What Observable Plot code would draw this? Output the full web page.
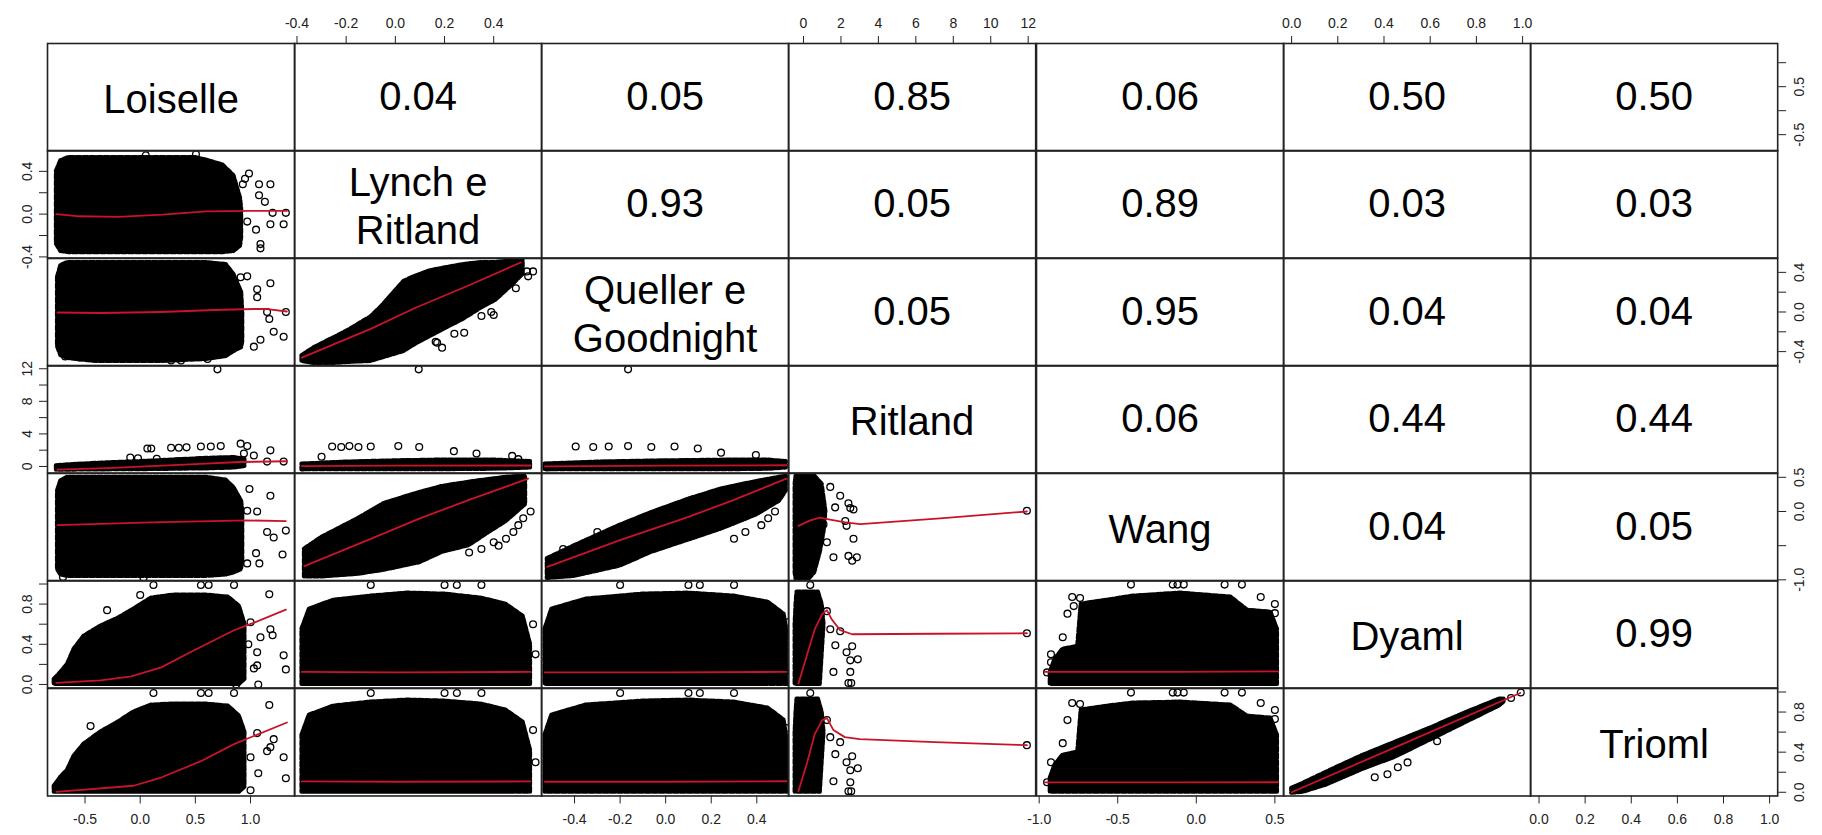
<!DOCTYPE html>
<html><head><meta charset="utf-8">
<script src="https://cdn.jsdelivr.net/npm/d3@7"></script>
<script src="https://cdn.jsdelivr.net/npm/@observablehq/plot@0.6"></script>
<style>
body{margin:0;background:#fff;}
#chart{position:relative;width:1822px;height:835px;overflow:hidden;background:#fff;font-family:"Liberation Sans",Arial,sans-serif;}
#chart > svg{position:absolute;}
</style></head><body><div id="chart"></div>
<script>
// ---- variables ----
const names = ["Loiselle","Lynch e\nRitland","Queller e\nGoodnight","Ritland","Wang","Dyaml","Trioml"];
const domains = [[-0.84,1.40],[-0.41,0.595],[-0.545,0.54],[-0.8,12.4],[-1.017,0.556],[-0.035,1.035],[-0.037,1.035]];
const tickValues = [[-0.5,0,0.5,1.0],[-0.4,-0.2,0,0.2,0.4],[-0.4,-0.2,0,0.2,0.4],[0,2,4,6,8,10,12],[-1,-0.5,0,0.5],[0,0.2,0.4,0.6,0.8,1.0],[0,0.2,0.4,0.6,0.8,1.0]];
// labels printed on the side axes (R drops overlapping ones)
const sideLabels = [[-0.5,0.5],[-0.4,0,0.4],[-0.4,0,0.4],[0,4,8,12],[-1,0,0.5],[0,0.4,0.8],[0,0.4,0.8]];
// correlations, upper triangle row by row
const corr = [
  ["0.04","0.05","0.85","0.06","0.50","0.50"],
  ["0.93","0.05","0.89","0.03","0.03"],
  ["0.05","0.95","0.04","0.04"],
  ["0.06","0.44","0.44"],
  ["0.04","0.05"],
  ["0.99"]
];

// ---- lower panels: dense cloud envelope [x, low, high], sparse points [x,y], smoother [x,y] ----
const cloud21 = [[-0.76,-0.28,0.40],[-0.72,-0.35,0.50],[-0.65,-0.36,0.53],[0.50,-0.36,0.53],[0.62,-0.36,0.50],[0.75,-0.36,0.46],[0.85,-0.35,0.36],[0.91,-0.30,0.15],[0.92,-0.22,0.05]];
const out21 = [[0.986,0.38],[1.077,0.28],[1.18,0.28],[1.077,0.177],[1.13,0.115],[1.18,-0.095],[1.30,-0.095],[1.32,0.012],[1.20,0.012],[1.05,-0.145],[1.09,-0.32],[1.09,-0.28],[0.97,-0.07],[0.93,0.28],[0.95,0.33],[0.05,0.55],[0.505,0.56]];
const fit21 = [[-0.76,0.0],[-0.55,-0.02],[-0.2,-0.025],[0.2,-0.005],[0.6,0.025],[1.0,0.03],[1.33,0.03]];

const cloud31 = [[-0.75,-0.35,0.35],[-0.72,-0.44,0.47],[-0.66,-0.47,0.50],[-0.4,-0.50,0.50],[0.2,-0.50,0.50],[0.6,-0.48,0.50],[0.78,-0.45,0.48],[0.85,-0.40,0.38],[0.92,-0.36,0.2],[0.93,-0.3,0.0]];
const out31 = [[0.91,0.35],[0.97,0.36],[1.18,0.29],[1.06,0.23],[1.06,0.15],[1.32,0.0],[1.15,0.0],[1.17,-0.07],[1.21,-0.2],[1.30,-0.25],[1.09,-0.28],[1.03,-0.35],[0.61,-0.475],[0.37,-0.49],[0.28,-0.49],[-0.68,-0.45],[-0.55,-0.46]];
const fit31 = [[-0.75,-0.005],[-0.36,-0.01],[0.19,0.0],[0.67,0.02],[1.03,0.03],[1.15,0.03],[1.33,0.005]];

const cloud41 = [[-0.76,-0.45,0.1],[-0.6,-0.45,0.25],[-0.3,-0.42,0.45],[0.0,-0.4,0.6],[0.3,-0.35,0.8],[0.6,-0.3,1.0],[0.85,-0.2,1.1],[0.95,0.0,0.9]];
const out41 = [[0.065,2.2],[0.1,2.2],[0.28,2.3],[0.35,2.3],[0.42,2.35],[0.55,2.45],[0.64,2.45],[0.73,2.5],[0.91,2.8],[0.97,2.5],[1.18,1.98],[0.94,1.6],[1.03,1.35],[1.15,0.6],[1.30,0.6],[-0.09,1.1],[0.70,11.93],[-0.02,1.0],[0.15,0.95]];
const fit41 = [[-0.75,-0.39],[-0.3,-0.2],[0.1,0.05],[0.5,0.3],[0.9,0.55],[1.33,0.64]];

const cloud51 = [[-0.75,-0.85,0.30],[-0.72,-0.93,0.45],[-0.66,-0.95,0.50],[0.6,-0.95,0.50],[0.78,-0.93,0.46],[0.85,-0.9,0.35],[0.92,-0.85,0.15],[0.93,-0.7,0.0]];
const out51 = [[0.99,0.33],[1.18,0.23],[0.97,0.01],[1.06,0.0],[1.32,-0.28],[1.21,-0.38],[1.15,-0.3],[1.29,-0.63],[1.05,-0.61],[0.97,-0.76],[1.08,-0.76],[0.9,-0.77],[0.03,-0.97],[-0.7,-0.96]];
const fit51 = [[-0.75,-0.2],[0.1,-0.16],[0.97,-0.13],[1.32,-0.14]];

const cloud61 = [[-0.78,0.0,0.05],[-0.72,0.0,0.12],[-0.66,0.0,0.2],[-0.6,0.0,0.35],[-0.51,0.0,0.48],[-0.36,0.0,0.58],[-0.2,0.0,0.66],[-0.06,0.0,0.75],[0.1,0.0,0.86],[0.3,0.0,0.89],[0.6,0.0,0.89],[0.8,0.0,0.87],[0.9,0.0,0.78],[0.95,0.05,0.6]];
const out61 = [[1.17,0.898],[1.2,0.49],[1.18,0.55],[1.09,0.47],[1.3,0.29],[1.32,0.15],[1.03,0.16],[1.06,0.32],[1.07,0.0],[1.06,0.19],[0.87,0.0],[0.12,0.99],[0.55,0.99],[0.62,0.99],[0.85,0.99],[-0.3,0.74],[0.0,0.89],[1.0,0.62],[0.98,0.4]];
const fit61 = [[-0.76,0.015],[-0.36,0.04],[-0.08,0.08],[0.19,0.17],[0.49,0.34],[0.85,0.54],[1.02,0.61],[1.32,0.745]];

const cloud71 = [[-0.78,0.0,0.06],[-0.72,0.0,0.15],[-0.66,0.0,0.22],[-0.6,0.0,0.36],[-0.51,0.0,0.48],[-0.36,0.0,0.6],[-0.2,0.0,0.7],[-0.06,0.0,0.8],[0.1,0.0,0.87],[0.3,0.0,0.88],[0.6,0.0,0.88],[0.8,0.0,0.86],[0.9,0.0,0.76],[0.95,0.05,0.6]];
const out71 = [[1.17,0.87],[1.06,0.59],[1.15,0.41],[1.21,0.53],[1.18,0.45],[1.30,0.35],[1.32,0.14],[1.07,0.19],[1.0,0.02],[0.12,0.99],[0.55,0.99],[0.62,0.99],[0.85,0.99],[-0.45,0.66],[1.0,0.35]];
const fit71 = [[-0.76,0.005],[-0.06,0.065],[0.19,0.147],[0.55,0.31],[0.85,0.48],[1.33,0.696]];

const cloud32 = [[-0.38,-0.50,-0.44],[-0.33,-0.52,-0.36],[-0.25,-0.52,-0.26],[-0.195,-0.51,-0.19],[-0.1,-0.50,-0.05],[-0.06,-0.47,0.045],[0.035,-0.40,0.31],[0.08,-0.33,0.36],[0.14,-0.25,0.415],[0.21,-0.16,0.45],[0.28,-0.07,0.48],[0.35,0.04,0.50],[0.41,0.12,0.50],[0.48,0.28,0.52],[0.52,0.38,0.52]];
const out32 = [[0.56,0.41],[0.535,0.41],[0.54,0.36],[0.49,0.24],[0.40,-0.03],[0.39,0.0],[0.35,-0.04],[0.28,-0.21],[0.24,-0.22],[0.19,-0.36],[0.164,-0.30],[0.11,-0.24],[0.095,-0.25],[-0.01,-0.36],[0.17,-0.31]];
const fit32 = [[-0.38,-0.46],[-0.1,-0.17],[0.08,0.04],[0.3,0.27],[0.51,0.50]];

const cloud42 = [[-0.38,-0.42,0.3],[-0.2,-0.4,0.55],[0.0,-0.4,0.7],[0.2,-0.4,0.8],[0.4,-0.35,0.8],[0.55,-0.2,0.6]];
const out42 = [[-0.257,2.45],[-0.22,2.4],[-0.187,2.5],[-0.15,2.4],[-0.1,2.45],[0.012,2.5],[0.097,2.4],[0.238,1.88],[0.33,1.6],[0.475,1.3],[0.095,11.93],[-0.3,1.2],[0.5,0.9]];
const fit42 = [[-0.38,0.05],[0.0,0.1],[0.55,0.12]];

const cloud43 = [[-0.53,-0.42,0.3],[-0.3,-0.4,0.55],[0.0,-0.4,0.7],[0.3,-0.4,0.8],[0.45,-0.35,0.8],[0.53,-0.2,0.6]];
const out43 = [[-0.395,2.45],[-0.318,2.4],[-0.25,2.45],[-0.165,2.5],[-0.063,2.4],[0.039,2.45],[0.141,2.2],[0.243,1.7],[0.396,1.4],[-0.165,11.93]];
const fit43 = [[-0.53,0.0],[0.0,0.1],[0.53,0.15]];

const cloud52 = [[-0.37,-0.96,-0.55],[-0.3,-0.96,-0.38],[-0.15,-0.92,-0.1],[-0.045,-0.86,0.12],[0.1,-0.75,0.28],[0.19,-0.6,0.367],[0.3,-0.5,0.43],[0.38,-0.31,0.47],[0.45,-0.15,0.5],[0.53,0.1,0.52]];
const out52 = [[0.3,-0.6],[0.35,-0.55],[0.4,-0.45],[0.45,-0.4],[0.48,-0.3],[0.5,-0.2],[0.52,-0.1],[0.55,0.0],[0.42,-0.5]];
const fit52 = [[-0.37,-0.8],[-0.1,-0.4],[0.1,-0.1],[0.3,0.17],[0.54,0.48]];

const cloud53 = [[-0.52,-0.98,-0.69],[-0.4,-0.95,-0.5],[-0.2,-0.8,-0.2],[-0.063,-0.6,-0.016],[0.1,-0.42,0.18],[0.243,-0.26,0.33],[0.4,-0.05,0.44],[0.5,0.15,0.5],[0.53,0.3,0.52]];
const out53 = [[0.3,-0.4],[0.35,-0.3],[0.42,-0.2],[0.45,-0.1],[0.48,0.0],[-0.3,-0.3],[-0.45,-0.55]];
const fit53 = [[-0.52,-0.81],[-0.2,-0.42],[0.1,-0.08],[0.3,0.17],[0.53,0.48]];

// Ritland on x: strips given as [y, xLow, xHigh]
const cloud54 = [[0.52,-0.4,0.6],[0.4,-0.45,1.0],[0.2,-0.45,1.1],[0.0,-0.45,1.2],[-0.3,-0.45,1.1],[-0.6,-0.45,0.9],[-0.9,-0.45,0.6],[-0.99,-0.4,0.3]];
const out54 = [[1.43,0.36],[1.96,0.23],[1.69,0.06],[2.4,0.12],[2.5,0.05],[2.67,0.03],[2.23,-0.14],[2.3,-0.21],[2.67,-0.40],[1.6,-0.67],[2.4,-0.65],[2.85,-0.67],[2.6,-0.72],[1.25,-0.45],[1.07,-0.19],[11.93,0.01]];
const fit54 = [[-0.27,-0.21],[0.36,-0.13],[0.89,-0.09],[1.42,-0.12],[2.23,-0.16],[3.03,-0.185],[7.3,-0.1],[11.93,0.0]];

const cloud64 = [[0.92,-0.35,0.8],[0.8,-0.4,1.0],[0.6,-0.45,1.1],[0.3,-0.45,1.0],[0.0,-0.45,0.9]];
const out64 = [[1.25,0.73],[1.96,0.53],[1.43,0.55],[1.7,0.39],[2.6,0.38],[2.3,0.32],[2.5,0.24],[2.9,0.25],[1.6,0.125],[2.5,0.125],[2.4,0.015],[2.55,0.015],[11.93,0.51],[0.36,0.99]];
const fit64 = [[-0.27,0.01],[0.2,0.3],[0.6,0.55],[1.0,0.7],[1.25,0.74],[1.5,0.65],[1.96,0.54],[2.6,0.5],[7.0,0.505],[11.93,0.51]];

const cloud74 = [[0.93,-0.35,0.8],[0.8,-0.4,1.0],[0.6,-0.45,1.1],[0.3,-0.45,1.0],[0.0,-0.45,0.9]];
const out74 = [[1.25,0.72],[1.96,0.5],[1.43,0.55],[1.7,0.38],[2.6,0.36],[2.3,0.3],[2.5,0.22],[2.9,0.24],[1.6,0.11],[2.5,0.1],[2.4,0.01],[2.55,0.01],[11.93,0.47],[0.36,0.99]];
const fit74 = [[-0.27,0.01],[0.2,0.3],[0.6,0.58],[1.0,0.72],[1.25,0.74],[1.6,0.62],[2.2,0.55],[3.0,0.53],[7.0,0.5],[11.93,0.47]];

const cloud62 = [[-0.38,0.0,0.55],[-0.35,0.0,0.75],[-0.25,0.0,0.84],[-0.1,0.0,0.88],[0.05,0.0,0.91],[0.2,0.0,0.9],[0.35,0.0,0.86],[0.45,0.0,0.8],[0.52,0.0,0.68],[0.55,0.0,0.4]];
const out62 = [[-0.1,0.99],[0.2,0.99],[0.25,0.99],[0.35,0.99],[0.56,0.6],[0.57,0.3]];
const fit62 = [[-0.38,0.125],[0.0,0.12],[0.55,0.125]];

const cloud72 = [[-0.38,0.0,0.57],[-0.35,0.0,0.77],[-0.25,0.0,0.86],[-0.1,0.0,0.9],[0.05,0.0,0.92],[0.2,0.0,0.91],[0.35,0.0,0.88],[0.45,0.0,0.82],[0.52,0.0,0.7],[0.55,0.0,0.42]];
const out72 = [[-0.1,0.99],[0.2,0.99],[0.25,0.99],[0.35,0.99],[0.56,0.62],[0.57,0.3]];
const fit72 = [[-0.38,0.108],[0.0,0.105],[0.55,0.108]];

const cloud63 = [[-0.53,0.0,0.55],[-0.5,0.0,0.75],[-0.35,0.0,0.85],[-0.1,0.0,0.9],[0.1,0.0,0.91],[0.3,0.0,0.88],[0.45,0.0,0.82],[0.52,0.0,0.7],[0.535,0.0,0.5]];
const out63 = [[-0.2,0.99],[0.1,0.99],[0.15,0.99],[0.3,0.99],[0.53,0.62]];
const fit63 = [[-0.53,0.12],[0.0,0.12],[0.53,0.125]];

const cloud73 = [[-0.53,0.0,0.57],[-0.5,0.0,0.77],[-0.35,0.0,0.87],[-0.1,0.0,0.91],[0.1,0.0,0.92],[0.3,0.0,0.9],[0.45,0.0,0.84],[0.52,0.0,0.72],[0.535,0.0,0.5]];
const out73 = [[-0.2,0.99],[0.1,0.99],[0.15,0.99],[0.3,0.99],[0.53,0.64]];
const fit73 = [[-0.53,0.105],[0.0,0.105],[0.53,0.11]];

const cloud65 = [[-0.93,0.0,0.12],[-0.9,0.0,0.25],[-0.85,0.0,0.35],[-0.755,0.0,0.38],[-0.733,0.0,0.80],[-0.564,0.0,0.84],[-0.4,0.0,0.88],[-0.1,0.0,0.91],[0.221,0.0,0.87],[0.326,0.0,0.74],[0.475,0.0,0.72],[0.517,0.0,0.55]];
const out65 = [[-0.416,0.994],[-0.15,0.994],[-0.12,0.994],[-0.08,0.994],[0.18,0.994],[0.29,0.994],[-0.79,0.87],[-0.74,0.86],[-0.78,0.78],[-0.82,0.705],[-0.925,0.3],[-0.925,0.22],[-0.85,0.47],[0.41,0.87],[0.5,0.8],[0.5,0.71],[-0.95,0.12]];
const fit65 = [[-0.967,0.125],[-0.1,0.125],[0.52,0.13]];

const cloud75 = [[-0.93,0.0,0.14],[-0.9,0.0,0.27],[-0.85,0.0,0.37],[-0.755,0.0,0.4],[-0.733,0.0,0.82],[-0.564,0.0,0.86],[-0.4,0.0,0.89],[-0.1,0.0,0.9],[0.221,0.0,0.87],[0.326,0.0,0.76],[0.475,0.0,0.74],[0.517,0.0,0.57]];
const out75 = [[-0.416,0.994],[-0.15,0.994],[-0.12,0.994],[-0.08,0.994],[0.18,0.994],[0.29,0.994],[-0.79,0.89],[-0.74,0.88],[-0.82,0.72],[-0.925,0.3],[-0.85,0.49],[0.41,0.89],[0.5,0.82],[0.5,0.73],[-0.95,0.1]];
const fit75 = [[-0.967,0.098],[-0.1,0.098],[0.52,0.1]];

const cloud76 = [[0.0,-0.01,0.04],[0.05,0.0,0.09],[0.15,0.07,0.2],[0.3,0.22,0.36],[0.45,0.35,0.5],[0.6,0.52,0.64],[0.75,0.69,0.79],[0.9,0.86,0.93],[0.92,0.90,0.93]];
const out76 = [[0.502,0.298],[0.46,0.25],[0.415,0.18],[0.36,0.15],[0.63,0.51],[0.992,0.995],[0.95,0.94]];
const fit76 = [[0.0,0.0],[0.5,0.5],[0.99,0.99]];

const lowerPanels = [
  {r:1,c:0,cloud:cloud21,out:out21,fit:fit21},
  {r:2,c:0,cloud:cloud31,out:out31,fit:fit31},
  {r:2,c:1,cloud:cloud32,out:out32,fit:fit32},
  {r:3,c:0,cloud:cloud41,out:out41,fit:fit41},
  {r:3,c:1,cloud:cloud42,out:out42,fit:fit42},
  {r:3,c:2,cloud:cloud43,out:out43,fit:fit43},
  {r:4,c:0,cloud:cloud51,out:out51,fit:fit51},
  {r:4,c:1,cloud:cloud52,out:out52,fit:fit52},
  {r:4,c:2,cloud:cloud53,out:out53,fit:fit53},
  {r:4,c:3,cloud:cloud54,out:out54,fit:fit54,vertical:true},
  {r:5,c:0,cloud:cloud61,out:out61,fit:fit61},
  {r:5,c:1,cloud:cloud62,out:out62,fit:fit62},
  {r:5,c:2,cloud:cloud63,out:out63,fit:fit63},
  {r:5,c:3,cloud:cloud64,out:out64,fit:fit64,vertical:true},
  {r:5,c:4,cloud:cloud65,out:out65,fit:fit65},
  {r:6,c:0,cloud:cloud71,out:out71,fit:fit71},
  {r:6,c:1,cloud:cloud72,out:out72,fit:fit72},
  {r:6,c:2,cloud:cloud73,out:out73,fit:fit73},
  {r:6,c:3,cloud:cloud74,out:out74,fit:fit74,vertical:true},
  {r:6,c:4,cloud:cloud75,out:out75,fit:fit75},
  {r:6,c:5,cloud:cloud76,out:out76,fit:fit76}
];

// ---- layout ----
const X0 = 46.7, Y0 = 42.7, CW = 247.2, RH = 107.5;
const FONT = "'Liberation Sans', Arial, sans-serif";
const RED = "#c8142a";
const chart = document.getElementById("chart");

function place(svg, r, c) {
  svg.style.left = (X0 + c * CW) + "px";
  svg.style.top = (Y0 + r * RH) + "px";
  chart.appendChild(svg);
}
const fmt = (k) => (k === 3 ? (d) => String(d) : (d) => d.toFixed(1));

for (let r = 0; r < 7; r++) {
  for (let c = 0; c < 7; c++) {
    let marks = [];
    let opts = {width: CW, height: RH, margin: 0, style: {background: "white", fontFamily: FONT}};
    if (r === c) {
      marks.push(Plot.text([names[r]], {frameAnchor: "middle", fontSize: 40, lineHeight: 1.2, fill: "black", fontFamily: FONT}));
    } else if (r < c) {
      marks.push(Plot.text([corr[r][c - r - 1]], {frameAnchor: "middle", fontSize: 40, fill: "black", fontFamily: FONT}));
    } else {
      const p = lowerPanels.find((q) => q.r === r && q.c === c);
      opts.x = {domain: domains[c], axis: null};
      opts.y = {domain: domains[r], axis: null};
      if (p.vertical) {
        marks.push(Plot.areaX(p.cloud, {y: (d) => d[0], x1: (d) => d[1], x2: (d) => d[2], fill: "black", stroke: "black", strokeWidth: 4, strokeLinejoin: "round", strokeDasharray: "5 2"}));
      } else {
        marks.push(Plot.areaY(p.cloud, {x: (d) => d[0], y1: (d) => d[1], y2: (d) => d[2], fill: "black", stroke: "black", strokeWidth: 4, strokeLinejoin: "round", strokeDasharray: "5 2"}));
      }
      marks.push(Plot.dot(p.out, {x: (d) => d[0], y: (d) => d[1], r: 3.4, stroke: "black", strokeWidth: 1.3, fill: "none"}));
      marks.push(Plot.line(p.fit, {x: (d) => d[0], y: (d) => d[1], stroke: RED, strokeWidth: 1.8}));
    }
    opts.marks = marks;
    place(Plot.plot(opts), r, c);
  }
}

// ---- frames and axes (overlay) ----
for (let r = 0; r < 7; r++) {
  for (let c = 0; c < 7; c++) {
    const marks = [Plot.frame({stroke: "#222", strokeWidth: 1.6})];
    const axisStyle = {tickSize: 8, fontSize: 14, label: null, stroke: "#222", color: "#222"};
    if (r === 0 && c % 2 === 1) {
      marks.push(Plot.axisX({...axisStyle, anchor: "top", ticks: tickValues[c], tickFormat: fmt(c), tickPadding: 8}));
    }
    if (r === 6 && c % 2 === 0) {
      marks.push(Plot.axisX({...axisStyle, anchor: "bottom", ticks: tickValues[c], tickFormat: fmt(c), tickPadding: 10}));
    }
    if (c === 0 && r % 2 === 1) {
      const lab = new Set(sideLabels[r]);
      const f = fmt(r);
      marks.push(Plot.axisY({...axisStyle, anchor: "left", ticks: tickValues[r], tickFormat: (d) => (lab.has(d) ? f(d) : ""), tickRotate: -90, tickPadding: 8}));
    }
    if (c === 6 && r % 2 === 0) {
      const lab = new Set(sideLabels[r]);
      const f = fmt(r);
      marks.push(Plot.axisY({...axisStyle, anchor: "right", ticks: tickValues[r], tickFormat: (d) => (lab.has(d) ? f(d) : ""), tickRotate: -90, tickPadding: 8, lineAnchor: "top"}));
    }
    const svg = Plot.plot({
      width: CW, height: RH, margin: 0,
      x: {domain: domains[c], axis: null}, y: {domain: domains[r], axis: null},
      style: {background: "transparent", overflow: "visible", fontFamily: FONT, color: "#222"},
      marks
    });
    place(svg, r, c);
  }
}
</script></body></html>
